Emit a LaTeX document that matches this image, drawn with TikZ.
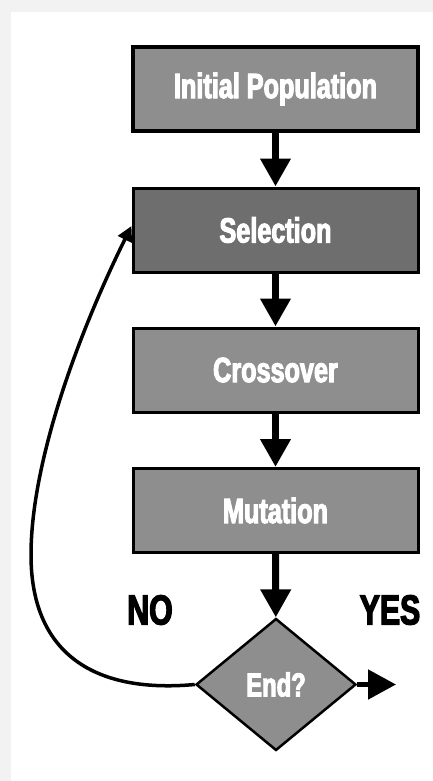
\documentclass[tikz,border=0pt]{standalone}
\usepackage{fontspec}
\usepackage{tikz}
\usetikzlibrary{arrows.meta, shapes.geometric}
\newfontfamily\impactfont{Liberation Sans}[FakeStretch=0.72, FakeBold=3]
\definecolor{panelgray}{HTML}{F2F2F2}
\definecolor{boxgray}{HTML}{8E8E8E}
\definecolor{darkgray2}{HTML}{6E6E6E}

\begin{document}
\begin{tikzpicture}[x=1pt, y=-1pt,
  stage/.style={draw=black, line width=3pt, fill=boxgray, text=white,
    minimum width=285pt, minimum height=84pt,
    font=\impactfont\bfseries\fontsize{35}{35}\selectfont},
  flow/.style={line width=7pt, -{Triangle[length=28pt, width=29pt]}},
  answer/.style={font=\impactfont\bfseries\fontsize{42}{42}\selectfont}]

  % background panel
  \fill[panelgray] (0,0) rectangle (433,781);
  \fill[white] (11,12) rectangle (433,781);
  \useasboundingbox (0,0) rectangle (433,781);

  \node[stage, line width=4pt] (init) at (275.5,89) {Initial Population};
  \node[stage, fill=darkgray2] (select) at (275.5,230) {Selection};
  \node[stage] (cross) at (275.5,370) {Crossover};
  \node[stage] (mutate) at (275.5,510.5) {Mutation};
  \node[diamond, draw=black, line width=2.5pt, fill=boxgray, text=white,
    minimum width=160pt, minimum height=132pt, inner sep=0pt,
    font=\impactfont\bfseries\fontsize{33}{33}\selectfont] (finish) at (276,684.5) {End?};

  \node[answer] (no) at (150,610) {NO};
  \node[answer] (yes) at (390,610) {YES};
  \coordinate (exit) at (396,684.5);

  \draw[flow] (init) -- (select);
  \draw[flow] (select) -- (cross);
  \draw[flow] (cross) -- (mutate);
  \draw[flow] (mutate) -- (finish);
  \draw[line width=5pt, -{Triangle[length=28pt, width=29pt]}] (finish.east) -- (exit);

  % loop back when not finished
  \draw[line width=3.5pt, -{Triangle[length=15pt, width=15pt]}] (finish.west)
    .. controls (90,694) and (31,650) .. (31,555)
    .. controls (31,460) and (80,330) .. ([yshift=4pt]select.west);

\end{tikzpicture}
\end{document}
